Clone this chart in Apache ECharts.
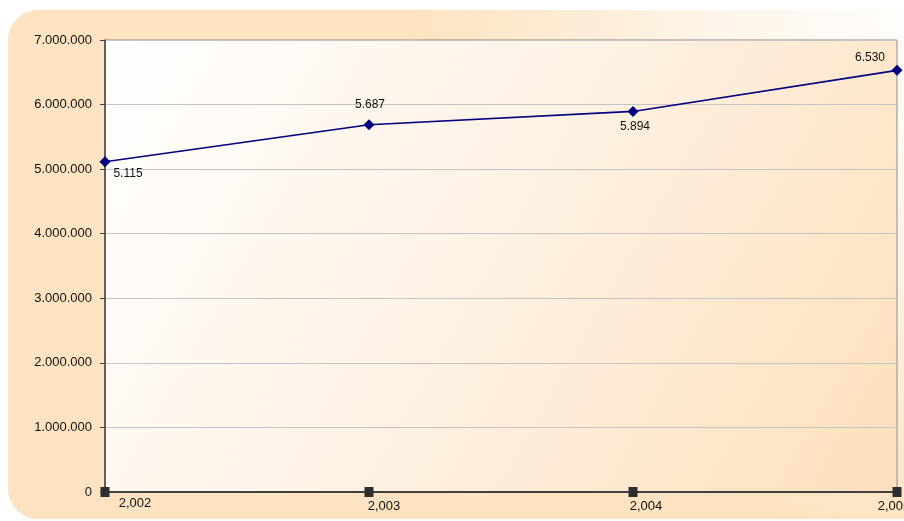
<!DOCTYPE html>
<html>
<head>
<meta charset="utf-8">
<script src="https://cdn.jsdelivr.net/npm/echarts@6/dist/echarts.min.js"></script>
<style>
html,body{margin:0;padding:0;background:#fff;overflow:hidden;}
#c{width:904px;height:521px;}
</style>
</head>
<body>
<div id="c"></div>
<script>
var years = ['2002', '2003', '2004', '2005'];
var xTickLabels = ['2,002', '2,003', '2,004', '2,005'];
var values = [5115000, 5687000, 5894000, 6530000];
var yMin = 0, yMax = 7000000, yStep = 1000000;

function dots(n) {
  return String(Math.round(n)).replace(/\B(?=(\d{3})+(?!\d))/g, '.');
}

var labelOffsets = [[23, 12], [1, -20], [2, 15], [-27, -13]];
var xLabelStyles = ['a0', 'a1', 'a2', 'a3'];

var chart = echarts.init(document.getElementById('c'), null, {renderer: 'canvas'});
var peach = '#fde3c1';
chart.setOption({
  animation: false,
  backgroundColor: '#ffffff',
  textStyle: {fontFamily: 'Liberation Sans, Arial, sans-serif'},
  graphic: [{
    type: 'rect',
    z: -10,
    silent: true,
    shape: {x: 8, y: 10, width: 940, height: 509, r: 30},
    style: {
      fill: {
        type: 'radial', x: 1, y: 0, r: 1.05,
        colorStops: [{offset: 0, color: '#ffffff'}, {offset: 0.35, color: '#fef7ee'}, {offset: 1, color: peach}]
      }
    }
  }],
  grid: {
    left: 105, right: 7, top: 40, bottom: 29,
    containLabel: false,
    outerBoundsMode: 'none',
    show: true,
    borderColor: '#8c8c8c',
    borderWidth: 1,
    backgroundColor: {
      type: 'linear', x: 0, y: 0, x2: 1, y2: 1,
      colorStops: [{offset: 0, color: '#ffffff'}, {offset: 0.5, color: '#fef1e2'}, {offset: 1, color: '#fde0bb'}]
    }
  },
  xAxis: {
    type: 'category',
    data: years,
    boundaryGap: false,
    axisLine: {lineStyle: {color: '#404040', width: 2}},
    axisTick: {show: false},
    splitLine: {show: false},
    axisLabel: {
      margin: 5,
      color: '#111',
      fontSize: 13,
      align: 'center',
      hideOverlap: false,
      formatter: function (v, i) { return '{' + xLabelStyles[i] + '|' + xTickLabels[i] + '}'; },
      rich: {
        a0: {fontSize: 13, color: '#111', padding: [0, 0, 0, 60]},
        a1: {fontSize: 13, color: '#111', padding: [3, 0, 0, 30]},
        a2: {fontSize: 13, color: '#111', padding: [3, 0, 0, 26]},
        a3: {fontSize: 13, color: '#111', padding: [3, 6, 0, 0]}
      }
    }
  },
  yAxis: {
    type: 'value',
    min: yMin, max: yMax, interval: yStep,
    axisLine: {show: true, lineStyle: {color: '#404040', width: 1.5}},
    axisTick: {show: true, length: 5, lineStyle: {color: '#404040'}},
    splitLine: {lineStyle: {color: '#c4c4c4', width: 1}},
    axisLabel: {
      margin: 13,
      color: '#111',
      fontSize: 13,
      formatter: function (v) { return dots(v); }
    }
  },
  series: [{
    type: 'line',
    data: values.map(function (v, i) {
      return {value: v, label: {offset: labelOffsets[i]}};
    }),
    symbol: 'diamond',
    symbolSize: 11,
    showAllSymbol: true,
    lineStyle: {color: '#000080', width: 1.6},
    itemStyle: {color: '#000080'},
    label: {
      show: true,
      position: 'inside',
      color: '#111',
      fontSize: 12,
      formatter: function (p) { return dots(p.value / 1000); }
    },
    z: 5
  }, {
    type: 'scatter',
    data: years.map(function () { return 0; }),
    symbol: 'rect',
    symbolSize: [9, 10],
    itemStyle: {color: '#2e2e2e', opacity: 1},
    silent: true,
    z: 6
  }]
});
</script>
</body>
</html>
